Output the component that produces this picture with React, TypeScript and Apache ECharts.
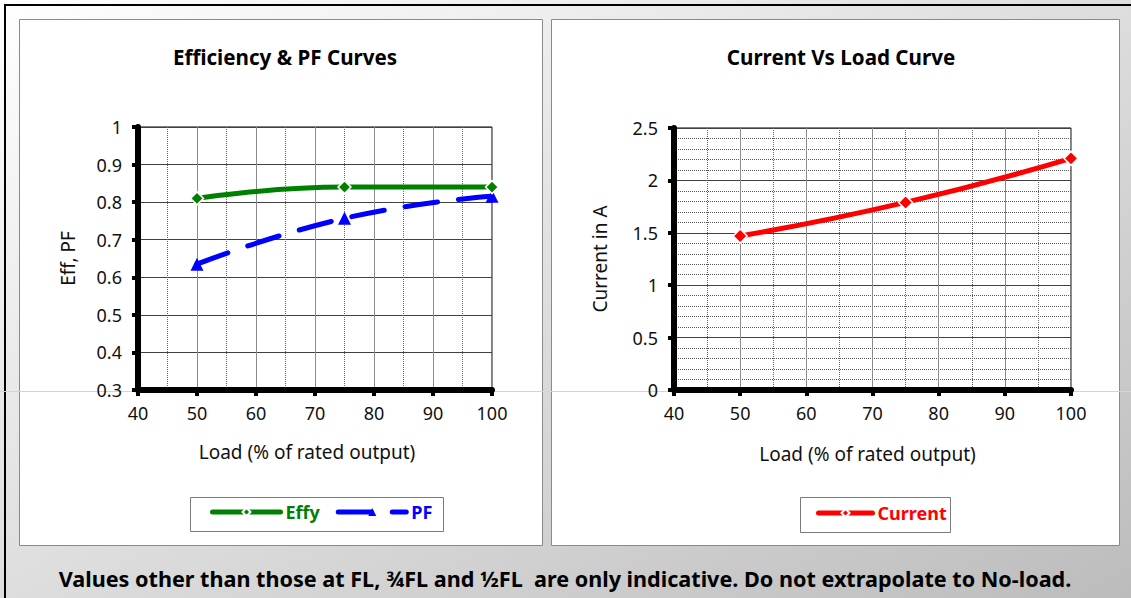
import React, { useEffect, useRef } from "react";
import * as echarts from "echarts";

const loads = [50, 75, 100];
const effy = [0.81, 0.84, 0.84];
const pf = [0.635, 0.757, 0.816];
const current = [1.47, 1.79, 2.21];

const xMin = 40, xMax = 100, xStep = 10;
const effMin = 0.3, effMax = 1, effStep = 0.1;
const curMin = 0, curMax = 2.5, curStep = 0.5;

const title1 = "Efficiency & PF Curves";
const title2 = "Current Vs Load Curve";
const xName = "Load (% of rated output)";
const yName1 = "Eff, PF";
const yName2 = "Current in A";
const footer = "Values other than those at FL, ¾FL and ½FL  are only indicative. Do not extrapolate to No-load.";

const FONT = "'Noto Sans', 'Open Sans', sans-serif";

function xAxisOpt(gridIndex: number, nameGap: number, shift: number) {
  return {
    type: "value", gridIndex, min: xMin, max: xMax, interval: xStep,
    name: xName, nameLocation: "middle", nameGap,
    nameTextStyle: { fontFamily: FONT, fontSize: 19, color: "#111", padding: [0, shift, 0, 0] },
    axisLine: { show: true, onZero: false, lineStyle: { color: "#000", width: 6 } },
    axisTick: { show: true, length: 6, lineStyle: { color: "#000", width: 4 } },
    axisLabel: { fontFamily: FONT, fontSize: 18, color: "#111", margin: 14 },
    splitLine: { show: true, lineStyle: { color: "#8c8c8c", width: 1 } },
    minorTick: { show: false, splitNumber: 2 },
    minorSplitLine: { show: true, lineStyle: { color: "#666", width: 1, type: [1, 1] } },
  };
}

function yAxisOpt(gridIndex: number, min: number, max: number, step: number, name: string, nameGap: number, minor: boolean) {
  return {
    type: "value", gridIndex, min, max, interval: step,
    name, nameLocation: "middle", nameGap,
    nameTextStyle: { fontFamily: FONT, fontSize: 19, color: "#111" },
    axisLine: { show: true, onZero: false, lineStyle: { color: "#000", width: 6 } },
    axisTick: { show: true, length: 6, lineStyle: { color: "#000", width: 4 } },
    axisLabel: { fontFamily: FONT, fontSize: 18, color: "#111", margin: 16 },
    splitLine: { show: true, lineStyle: { color: "#404040", width: 1 } },
    minorTick: { show: false, splitNumber: 5 },
    minorSplitLine: { show: minor, lineStyle: { color: "#555", width: 1, type: [1, 1] } },
  };
}

export default function App() {
  const ref = useRef<HTMLDivElement>(null);
  useEffect(() => {
    if (!ref.current) return;
    const chart = echarts.init(ref.current, null, { renderer: "svg" });
    const toPts = (ys: number[]) => loads.map((x, i) => [x, ys[i]]);
    const legendText = { fontFamily: FONT, fontSize: 18, fontWeight: "bold" };
    chart.setOption({
      animation: false,
      graphic: [
        {
          type: "rect", z: -40, shape: { x: 0, y: 0, width: 1131, height: 598 },
          style: {
            fill: new echarts.graphic.LinearGradient(0, 0, 1, 1, [
              { offset: 0, color: "#ffffff" },
              { offset: 1, color: "#bcbcbc" },
            ]),
          },
        },
        { type: "rect", z: -39, shape: { x: 4, y: 4, width: 1127, height: 2 }, style: { fill: "#000" } },
        { type: "rect", z: -39, shape: { x: 4, y: 4, width: 2, height: 594 }, style: { fill: "#000" } },
        { type: "rect", z: -30, shape: { x: 19.5, y: 19.5, width: 523, height: 526 }, style: { fill: "#fff", stroke: "#8a8a8a", lineWidth: 1 } },
        { type: "rect", z: -30, shape: { x: 551.5, y: 19.5, width: 568, height: 526 }, style: { fill: "#fff", stroke: "#8a8a8a", lineWidth: 1 } },
        { type: "line", z: -25, shape: { x1: 0, y1: 391.5, x2: 1131, y2: 391.5 }, style: { stroke: "#d4d4d4", lineWidth: 1 } },
        { type: "rect", z: -20, shape: { x: 190.5, y: 497.5, width: 253, height: 34 }, style: { fill: "#fff", stroke: "#7a7a7a", lineWidth: 1 } },
        { type: "rect", z: -20, shape: { x: 800.5, y: 497.5, width: 150, height: 35 }, style: { fill: "#fff", stroke: "#7a7a7a", lineWidth: 1 } },
        {
          type: "text", z: 10, x: 285, y: 57,
          style: { text: title1, textAlign: "center", textVerticalAlign: "middle", font: `bold 20.6px ${FONT}`, fill: "#000" },
        },
        {
          type: "text", z: 10, x: 841, y: 57,
          style: { text: title2, textAlign: "center", textVerticalAlign: "middle", font: `bold 20.6px ${FONT}`, fill: "#000" },
        },
        {
          type: "text", z: 10, x: 565, y: 578,
          style: { text: footer, textAlign: "center", textVerticalAlign: "middle", font: `bold 21.6px ${FONT}`, fill: "#000" },
        },
      ],
      grid: [
        { left: 138, top: 127, width: 354, height: 263, show: true, borderColor: "#000", borderWidth: 1, backgroundColor: "transparent" },
        { left: 674, top: 128, width: 397, height: 262, show: true, borderColor: "#000", borderWidth: 1, backgroundColor: "transparent" },
      ],
      xAxis: [xAxisOpt(0, 52, 16), xAxisOpt(1, 54, 10)],
      yAxis: [
        yAxisOpt(0, effMin, effMax, effStep, yName1, 61, false),
        yAxisOpt(1, curMin, curMax, curStep, yName2, 65, true),
      ],
      legend: [
        {
          data: [
            { name: "Effy", textStyle: { color: "#008000" } },
            { name: "PF", textStyle: { color: "#0000ff" } },
          ],
          left: 210, top: 503, padding: 0, itemWidth: 68, itemHeight: 10, itemGap: 16,
          lineStyle: { width: 5, cap: "round" },
          textStyle: legendText,
        },
        {
          data: [{ name: "Current", textStyle: { color: "#ff0000" } }],
          left: 816, top: 504, padding: 0, itemWidth: 54, itemHeight: 10,
          lineStyle: { width: 5, cap: "round" },
          textStyle: legendText,
        },
      ],
      series: [
        {
          name: "PF", type: "line", xAxisIndex: 0, yAxisIndex: 0, data: toPts(pf), smooth: true,
          symbol: "triangle", symbolSize: 13,
          lineStyle: { color: "#0000ff", width: 5, type: [33, 21], cap: "round" },
          itemStyle: { color: "#0000ff" }, z: 3,
        },
        {
          name: "Effy", type: "line", xAxisIndex: 0, yAxisIndex: 0, data: toPts(effy), smooth: true,
          symbol: "diamond", symbolSize: 13,
          lineStyle: { color: "#008000", width: 5 },
          itemStyle: { color: "#008000", borderColor: "#fff", borderWidth: 1.5 }, z: 4,
        },
        {
          name: "Current", type: "line", xAxisIndex: 1, yAxisIndex: 1, data: toPts(current), smooth: true,
          symbol: "diamond", symbolSize: 14,
          lineStyle: { color: "#ff0000", width: 5 },
          itemStyle: { color: "#ff0000", borderColor: "#fff", borderWidth: 1.5 }, z: 4,
        },
      ],
    });
    return () => chart.dispose();
  }, []);
  return <div ref={ref} style={{ position: "absolute", left: 0, top: 0, width: 1131, height: 598 }} />;
}
